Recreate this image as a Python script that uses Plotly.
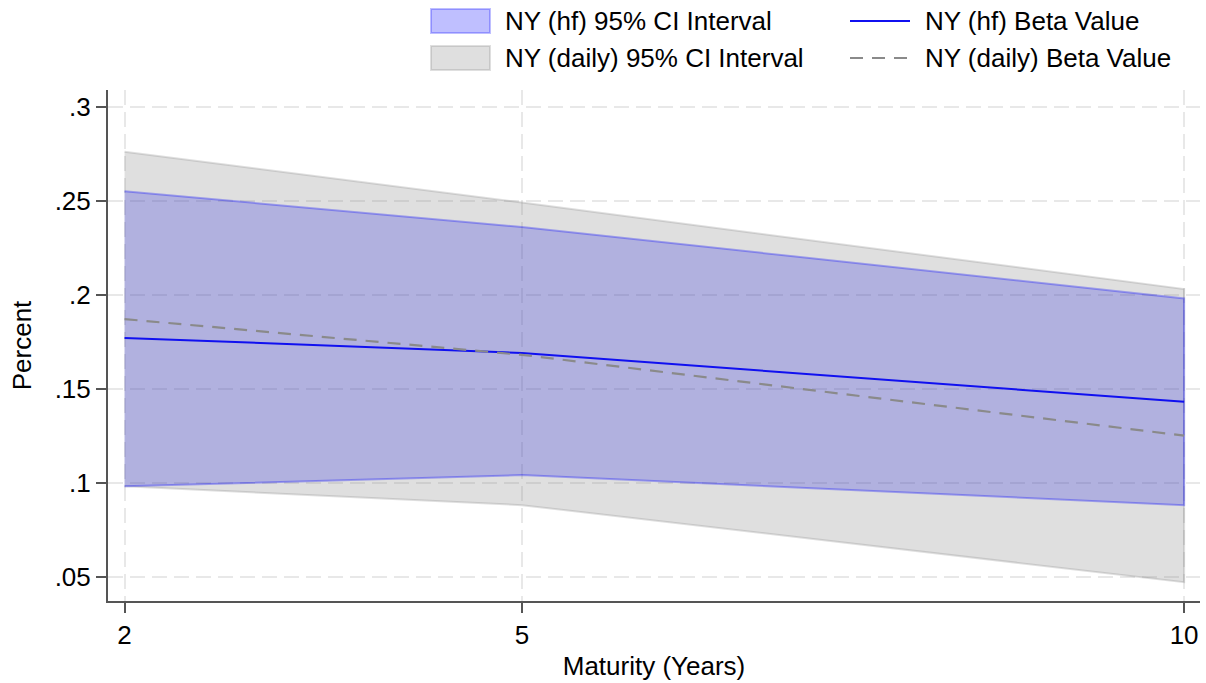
import plotly.graph_objects as go

# ---- data ----
maturity = [2, 5, 10]
hf_beta = [0.177, 0.169, 0.143]
hf_ci_low = [0.098, 0.104, 0.088]
hf_ci_high = [0.255, 0.236, 0.198]
daily_beta = [0.187, 0.168, 0.125]
daily_ci_low = [0.098, 0.088, 0.047]
daily_ci_high = [0.276, 0.249, 0.203]

x_tickvals = [2, 5, 10]
x_ticktext = ["2", "5", "10"]
y_tickvals = [0.05, 0.1, 0.15, 0.2, 0.25, 0.3]
y_ticktext = [".05", ".1", ".15", ".2", ".25", ".3"]

label_hf_ci = "NY (hf) 95% CI Interval"
label_daily_ci = "NY (daily) 95% CI Interval"
label_hf_beta = "NY (hf) Beta Value"
label_daily_beta = "NY (daily) Beta Value"

# ---- styles ----
FONT = "Liberation Sans, Arial, sans-serif"
BLUE_FILL = "rgba(40,40,224,0.25)"
BLUE_EDGE = "rgba(0,0,255,0.3)"
BLUE_SWATCH = "rgba(0,0,255,0.25)"
GRAY_FILL = "rgba(128,128,128,0.25)"
BLUE_LINE = "#1010f0"
GRAY_LINE = "#8a8a8a"
AXIS_COLOR = "#555555"
GRID_COLOR = "#e8e8e8"
DASH = "13px,9px"

W, H = 1206, 683
# page positions of the plot area
ABS_L, ABS_R, ABS_T, ABS_B = 108, 1200, 90, 601
ML, MT = ABS_L, ABS_T
MR, MB = W - ABS_R, H - ABS_B
PW, PH = ABS_R - ABS_L, ABS_B - ABS_T


def px(xp):
    return (xp - ABS_L) / PW


def py(yp):
    return (ABS_B - yp) / PH


fig = go.Figure()

# daily CI band (closed polygon)
fig.add_trace(go.Scatter(
    x=maturity + maturity[::-1],
    y=daily_ci_high + daily_ci_low[::-1],
    fill="toself", fillcolor=GRAY_FILL,
    line=dict(color=GRAY_FILL, width=2),
    mode="lines", name=label_daily_ci, showlegend=False, hoverinfo="skip",
))
# hf CI band
fig.add_trace(go.Scatter(
    x=maturity + maturity[::-1],
    y=hf_ci_high + hf_ci_low[::-1],
    fill="toself", fillcolor=BLUE_FILL,
    line=dict(color=BLUE_EDGE, width=2),
    mode="lines", name=label_hf_ci, showlegend=False, hoverinfo="skip",
))
# hf beta
fig.add_trace(go.Scatter(
    x=maturity, y=hf_beta, mode="lines",
    line=dict(color=BLUE_LINE, width=2),
    name=label_hf_beta, showlegend=False,
))
# daily beta
fig.add_trace(go.Scatter(
    x=maturity, y=daily_beta, mode="lines",
    line=dict(color=GRAY_LINE, width=2.2, dash=DASH),
    name=label_daily_beta, showlegend=False,
))

# ---- manual legend (Stata-style) ----
shapes = [
    dict(type="rect", xref="paper", yref="paper",
         x0=px(431), x1=px(490), y0=py(33), y1=py(9),
         fillcolor=BLUE_SWATCH, line=dict(color=BLUE_SWATCH, width=2)),
    dict(type="rect", xref="paper", yref="paper",
         x0=px(431), x1=px(490), y0=py(70), y1=py(46),
         fillcolor=GRAY_FILL, line=dict(color=GRAY_FILL, width=2)),
    dict(type="line", xref="paper", yref="paper",
         x0=px(850), x1=px(910), y0=py(21), y1=py(21),
         line=dict(color=BLUE_LINE, width=2)),
    dict(type="line", xref="paper", yref="paper",
         x0=px(850), x1=px(910), y0=py(58), y1=py(58),
         line=dict(color=GRAY_LINE, width=2.2, dash=DASH)),
]
annotations = []
for text, xp, yp in [(label_hf_ci, 504, 21), (label_daily_ci, 504, 58),
                     (label_hf_beta, 924, 21), (label_daily_beta, 924, 58)]:
    annotations.append(dict(
        text=text, xref="paper", yref="paper", x=px(xp), y=py(yp),
        xanchor="left", yanchor="middle", showarrow=False, borderpad=0,
        font=dict(family=FONT, size=26, color="black"),
    ))

fig.update_layout(
    width=W, height=H,
    margin=dict(l=ML, r=MR, t=MT, b=MB, pad=0),
    paper_bgcolor="white", plot_bgcolor="white",
    font=dict(family=FONT, size=26, color="black"),
    showlegend=False,
    shapes=shapes, annotations=annotations,
    xaxis=dict(
        range=[1.875, 10.12],
        tickmode="array", tickvals=x_tickvals, ticktext=x_ticktext,
        ticks="outside", ticklen=10, tickwidth=1.5, tickcolor=AXIS_COLOR,
        showline=True, linecolor=AXIS_COLOR, linewidth=2,
        showgrid=True, gridcolor=GRID_COLOR, gridwidth=1.5, griddash="15px,7px",
        zeroline=False,
        tickfont=dict(size=26),
        title=dict(text="Maturity (Years)", font=dict(size=26), standoff=8),
    ),
    yaxis=dict(
        range=[0.037, 0.3089],
        tickmode="array", tickvals=y_tickvals, ticktext=y_ticktext,
        ticks="outside", ticklen=10, tickwidth=1.5, tickcolor=AXIS_COLOR,
        showline=True, linecolor=AXIS_COLOR, linewidth=2,
        showgrid=True, gridcolor=GRID_COLOR, gridwidth=1.5, griddash="15px,7px",
        zeroline=False,
        tickfont=dict(size=26),
        title=dict(text="Percent", font=dict(size=26), standoff=16),
    ),
)

# remove the browser's default 8px body margin so the figure fills the window
fig.write_html(
    "out.html",
    config={"displayModeBar": False},
    post_script="document.body.style.margin='0px';",
)
